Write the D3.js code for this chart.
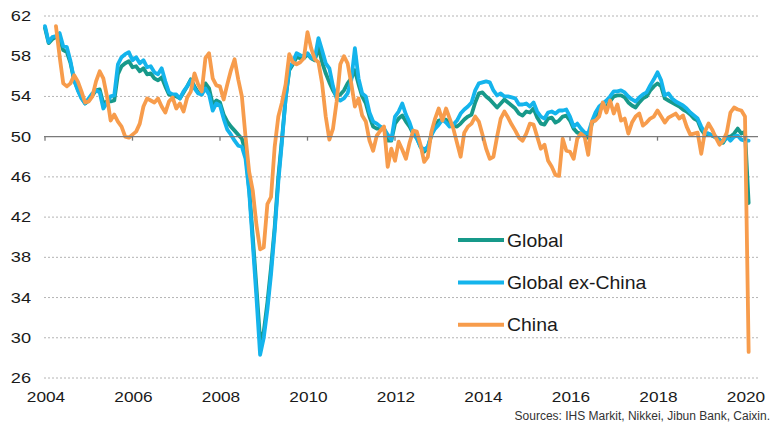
<!DOCTYPE html>
<html lang="en">
<head>
<meta charset="UTF-8">
<title>PMI</title>
<script src="https://d3js.org/d3.v7.min.js"></script>
<style>
body { margin: 0; background: #fff; }
svg { display: block; }
text { font-family: "Liberation Sans", Arial, sans-serif; fill: #1a1a1a; }
.grid line { stroke: #b4b4b4; stroke-dasharray: 2,2; stroke-width: 1; }
.series { fill: none; stroke-width: 3.8; stroke-linejoin: round; stroke-linecap: round; }
</style>
</head>
<body>
<svg id="chart" width="776" height="423"></svg>
<script>
// monthly values, Jan 2004 - Feb 2020 (China from Apr 2004)
const exChina = [
  61.0,59.4,59.9,60.0,60.3,59.0,58.9,57.5,55.6,54.6,53.8,53.3,
  53.8,54.3,54.6,54.4,52.8,53.4,54.0,54.1,57.2,57.9,58.2,58.4,
  57.6,57.9,57.3,57.6,56.9,57.0,56.4,56.2,56.8,55.5,54.4,54.2,
  54.2,53.8,54.5,55.0,55.6,54.8,54.3,54.2,54.8,54.2,52.6,53.3,
  53.1,51.8,50.7,50.2,49.6,49.1,49.0,47.8,44.5,39.3,34.0,28.3,
  30.0,32.8,36.3,40.6,45.5,49.5,53.8,56.8,57.4,58.3,58.1,58.0,
  58.3,57.8,57.8,59.8,58.6,57.3,56.8,55.0,53.8,53.6,53.8,54.3,
  55.6,58.8,55.8,54.3,54.0,52.4,51.5,51.3,51.0,50.8,50.2,49.7,
  52.0,52.5,53.3,52.2,51.4,50.3,49.8,49.0,48.7,49.0,50.2,50.8,
  51.2,51.7,51.4,51.0,51.2,51.6,52.3,52.7,53.0,53.4,54.6,55.3,
  55.4,55.5,55.4,54.6,54.1,54.3,54.0,54.0,53.9,53.8,53.2,53.2,
  53.3,53.0,53.4,52.5,52.0,51.8,52.4,52.5,52.3,52.6,52.6,52.7,
  52.0,51.0,51.3,50.8,50.4,50.3,51.5,52.4,53.0,53.3,53.6,54.0,
  54.5,54.5,54.6,54.4,54.0,53.7,53.5,53.9,54.2,54.4,55.1,55.7,
  56.4,55.6,54.1,54.3,53.8,53.5,53.3,53.1,52.8,52.4,52.1,51.8,
  51.0,50.4,50.3,50.1,50.0,49.6,49.5,50.0,49.6,50.0,50.1,49.7,
  49.6,49.6
];
const global = [
  60.8,59.3,59.7,59.9,59.8,58.6,58.4,57.3,55.6,54.7,53.9,53.3,
  53.6,54.1,54.6,54.7,53.3,53.5,53.5,53.6,56.2,57.0,57.3,57.5,
  56.9,57.0,56.5,56.8,56.2,56.3,55.8,55.6,55.9,55.0,54.2,54.1,
  54.0,53.8,54.4,55.0,55.7,55.0,54.4,54.2,55.3,54.8,53.2,53.6,
  53.4,52.2,51.5,51.0,50.6,50.2,49.8,48.5,44.8,40.0,35.0,29.8,
  30.6,33.5,37.0,41.0,46.0,49.8,53.8,56.6,57.2,57.9,57.8,57.8,
  58.2,57.8,57.6,58.9,57.4,56.3,55.4,54.6,54.0,54.2,54.6,55.3,
  55.8,56.6,55.2,54.0,53.3,52.0,51.0,50.8,50.8,50.8,49.6,49.6,
  51.3,51.8,52.1,51.5,51.0,50.3,49.9,49.0,48.5,48.9,50.2,51.0,
  51.6,51.7,51.7,51.2,51.1,51.0,51.3,51.7,52.0,52.2,53.4,54.3,
  54.4,54.0,53.7,53.3,52.9,53.3,53.7,53.4,53.1,52.8,52.3,52.1,
  52.5,52.4,52.8,51.9,51.3,51.2,51.8,51.9,51.4,51.6,52.0,52.1,
  51.6,50.8,50.4,50.3,50.2,49.9,51.3,52.0,52.6,53.0,53.0,53.5,
  54.0,54.1,54.1,53.9,53.4,53.1,52.9,53.4,53.8,54.0,54.6,55.0,
  55.3,55.0,53.8,53.6,53.4,53.2,53.0,52.7,52.5,52.2,51.8,51.6,
  50.7,50.2,50.3,50.1,49.9,49.7,49.4,50.0,50.0,50.3,50.8,50.3,
  50.5,43.4
];
const china = [
                 61.0,58.0,55.3,55.0,55.3,56.1,55.5,54.5,53.4,
  53.5,54.0,55.5,56.5,55.8,54.0,51.6,52.2,51.5,51.0,50.0,49.9,
  50.2,50.5,51.3,53.0,53.8,53.6,53.4,53.8,53.0,52.4,53.5,53.9,
  52.8,53.3,52.5,53.9,54.5,56.3,55.2,54.5,57.8,58.3,55.8,55.1,
  55.0,53.7,55.2,56.6,57.7,55.7,54.0,50.0,46.5,44.6,41.2,38.8,
  39.0,43.3,44.0,49.0,52.0,53.4,55.2,58.2,57.4,57.2,57.4,57.8,
  60.4,58.8,57.7,57.4,55.3,52.0,49.7,50.8,53.5,57.2,58.0,57.3,
  55.3,53.0,53.8,52.1,51.5,49.6,48.6,50.1,50.6,51.0,47.0,48.8,
  47.6,49.5,48.7,47.8,49.4,50.6,50.5,49.2,47.5,48.0,50.5,51.8,
  52.8,51.6,52.8,51.8,50.8,49.4,48.0,50.4,51.0,51.3,52.0,51.5,
  50.2,48.8,47.8,48.0,50.0,51.8,52.5,51.9,51.2,50.6,49.9,49.6,
  50.3,51.3,51.2,50.0,48.8,49.2,47.6,47.0,46.2,46.1,49.8,48.6,
  48.5,47.8,49.8,50.3,50.0,48.2,51.5,51.6,52.0,53.4,52.4,53.6,
  52.3,53.2,51.6,51.8,50.3,51.4,52.0,52.3,51.1,51.4,51.8,52.0,
  52.6,52.0,51.4,51.9,52.1,52.3,51.8,52.1,51.0,50.2,50.3,50.4,
  48.3,50.5,51.3,50.7,49.9,49.2,49.6,50.4,52.4,52.9,52.7,52.6,
  52.0,28.6
];
const yTicks = [26, 30, 34, 38, 42, 46, 50, 54, 58, 62];
const xTicks = [2004, 2006, 2008, 2010, 2012, 2014, 2016, 2018, 2020];
const legendNames = ["Global", "Global ex-China", "China"];
const colors = {"Global": "#17998a", "Global ex-China": "#14b4ec", "China": "#f79c4c"};

// drawing order: Global, then ex-China over it, China on top
const series = [
  {name: "Global", start: 0, values: global},
  {name: "Global ex-China", start: 0, values: exChina},
  {name: "China", start: 3, values: china}
];

const svg = d3.select("#chart");
const x = d3.scaleLinear().domain([2004, 2020]).range([45, 745]);
const y = d3.scaleLinear().domain([26, 62]).range([378, 16]);

// dotted gridlines
svg.append("g").attr("class", "grid")
  .selectAll("line")
  .data(yTicks.filter(d => d !== 50))
  .join("line")
  .attr("x1", 44).attr("x2", 758)
  .attr("y1", d => y(d)).attr("y2", d => y(d));

// y labels (slightly wide face, like the original)
svg.append("g").selectAll("text")
  .data(yTicks)
  .join("text")
  .attr("text-anchor", "end")
  .attr("transform", d => `translate(31,${y(d) + 5}) scale(1.3,1)`)
  .style("font-size", "14px")
  .text(d => d);

// x labels
svg.append("g").selectAll("text")
  .data(xTicks)
  .join("text")
  .attr("text-anchor", "middle")
  .attr("transform", d => `translate(${x(d) + 1},${402}) scale(1.15,1)`)
  .style("font-size", "15px")
  .text(d => d);

// lines
const line = d3.line()
  .x(d => x(d[0]))
  .y(d => y(d[1]));

svg.append("g").selectAll("path")
  .data(series)
  .join("path")
  .attr("class", "series")
  .attr("stroke", d => colors[d.name])
  .attr("d", d => line(d.values.map((v, i) => [2004 + (d.start + i) / 12, v])));

// the 50 line with ticks
const axis = svg.append("g");
axis.append("line")
  .attr("x1", 44).attr("x2", 758)
  .attr("y1", y(50)).attr("y2", y(50))
  .attr("stroke", "#7a7a7a").attr("stroke-width", 1.3);
axis.selectAll(".tick")
  .data(xTicks)
  .join("line")
  .attr("class", "tick")
  .attr("x1", d => x(d)).attr("x2", d => x(d))
  .attr("y1", y(50)).attr("y2", y(50) + 4)
  .attr("stroke", "#7a7a7a").attr("stroke-width", 1.3);

// legend
const legend = svg.append("g")
  .selectAll("g")
  .data(legendNames)
  .join("g")
  .attr("transform", (d, i) => `translate(458,${240 + i * 42.4})`);
legend.append("line")
  .attr("x1", 0).attr("x2", 46)
  .attr("stroke", d => colors[d])
  .attr("stroke-width", 4);
legend.append("text")
  .attr("transform", "translate(49,6.5) scale(1.08,1)")
  .style("font-size", "18px")
  .text(d => d);

svg.append("text")
  .attr("x", 770).attr("y", 420)
  .attr("text-anchor", "end")
  .style("font-size", "12px")
  .style("fill", "#333")
  .text("Sources: IHS Markit, Nikkei, Jibun Bank, Caixin.");
</script>
</body>
</html>
